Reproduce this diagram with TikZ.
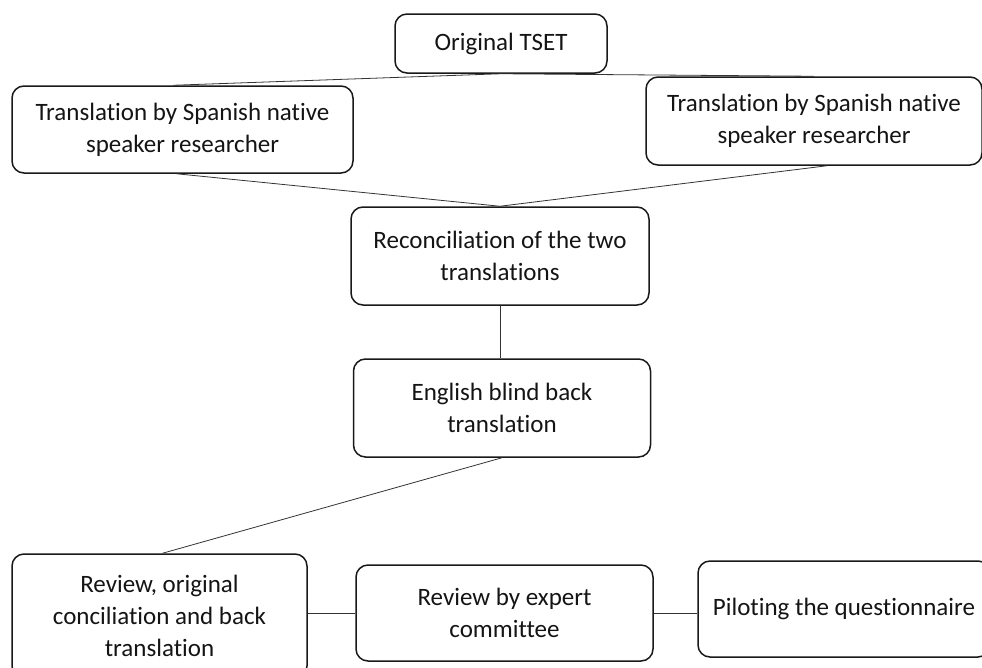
\documentclass[tikz,border=0pt]{standalone}
\usepackage{fontspec}
\setmainfont[Ligatures=NoCommon]{Carlito}
\begin{document}
\begin{tikzpicture}[x=1pt,y=-1pt,
  box/.style={draw=black!90, line width=1.5pt, rounded corners=12pt, align=center,
    inner sep=0pt, font=\fontsize{25}{32}\selectfont, text=black!92},
  link/.style={draw=black!80, line width=0.8pt}]
\useasboundingbox (0,0) rectangle (982,667);
\node[box, minimum width=212pt, minimum height=59pt] (tset) at (501,43.5) {Original TSET};
\node[box, minimum width=341pt, minimum height=87pt] (leftT) at (182.5,129.5) {Translation by Spanish native\\speaker researcher};
\node[box, minimum width=336pt, minimum height=88pt] (rightT) at (814,121) {Translation by Spanish native\\speaker researcher};
\node[box, minimum width=298pt, minimum height=98pt] (recon) at (500,256) {Reconciliation of the two\\translations};
\node[box, minimum width=297pt, minimum height=98pt] (eng) at (502,408) {English blind back\\translation};
\node[box, minimum width=295pt, minimum height=124pt] (review) at (159.5,616) {Review, original\\conciliation and back\\translation};
\node[box, minimum width=297pt, minimum height=96pt] (mid) at (504.5,613) {Review by expert\\committee};
\node[box, minimum width=292pt, minimum height=96pt] (pilot) at (844,609) {Piloting the questionnaire};
\draw[link] (tset.south) -- ([xshift=-9pt]leftT.north);
\draw[link] (tset.south) -- (rightT.north);
\draw[link] ([xshift=-6pt]leftT.south) -- (recon.north);
\draw[link] ([xshift=13pt]rightT.south) -- (recon.north);
\draw[link] (recon.south) -- (recon.south |- eng.north);
\draw[link] (eng.south) -- ([xshift=3pt]review.north);
\draw[link] (mid.west -| review.east) -- (mid.west);
\draw[link] (mid.east) -- (mid.east -| pilot.west);
\end{tikzpicture}
\end{document}
